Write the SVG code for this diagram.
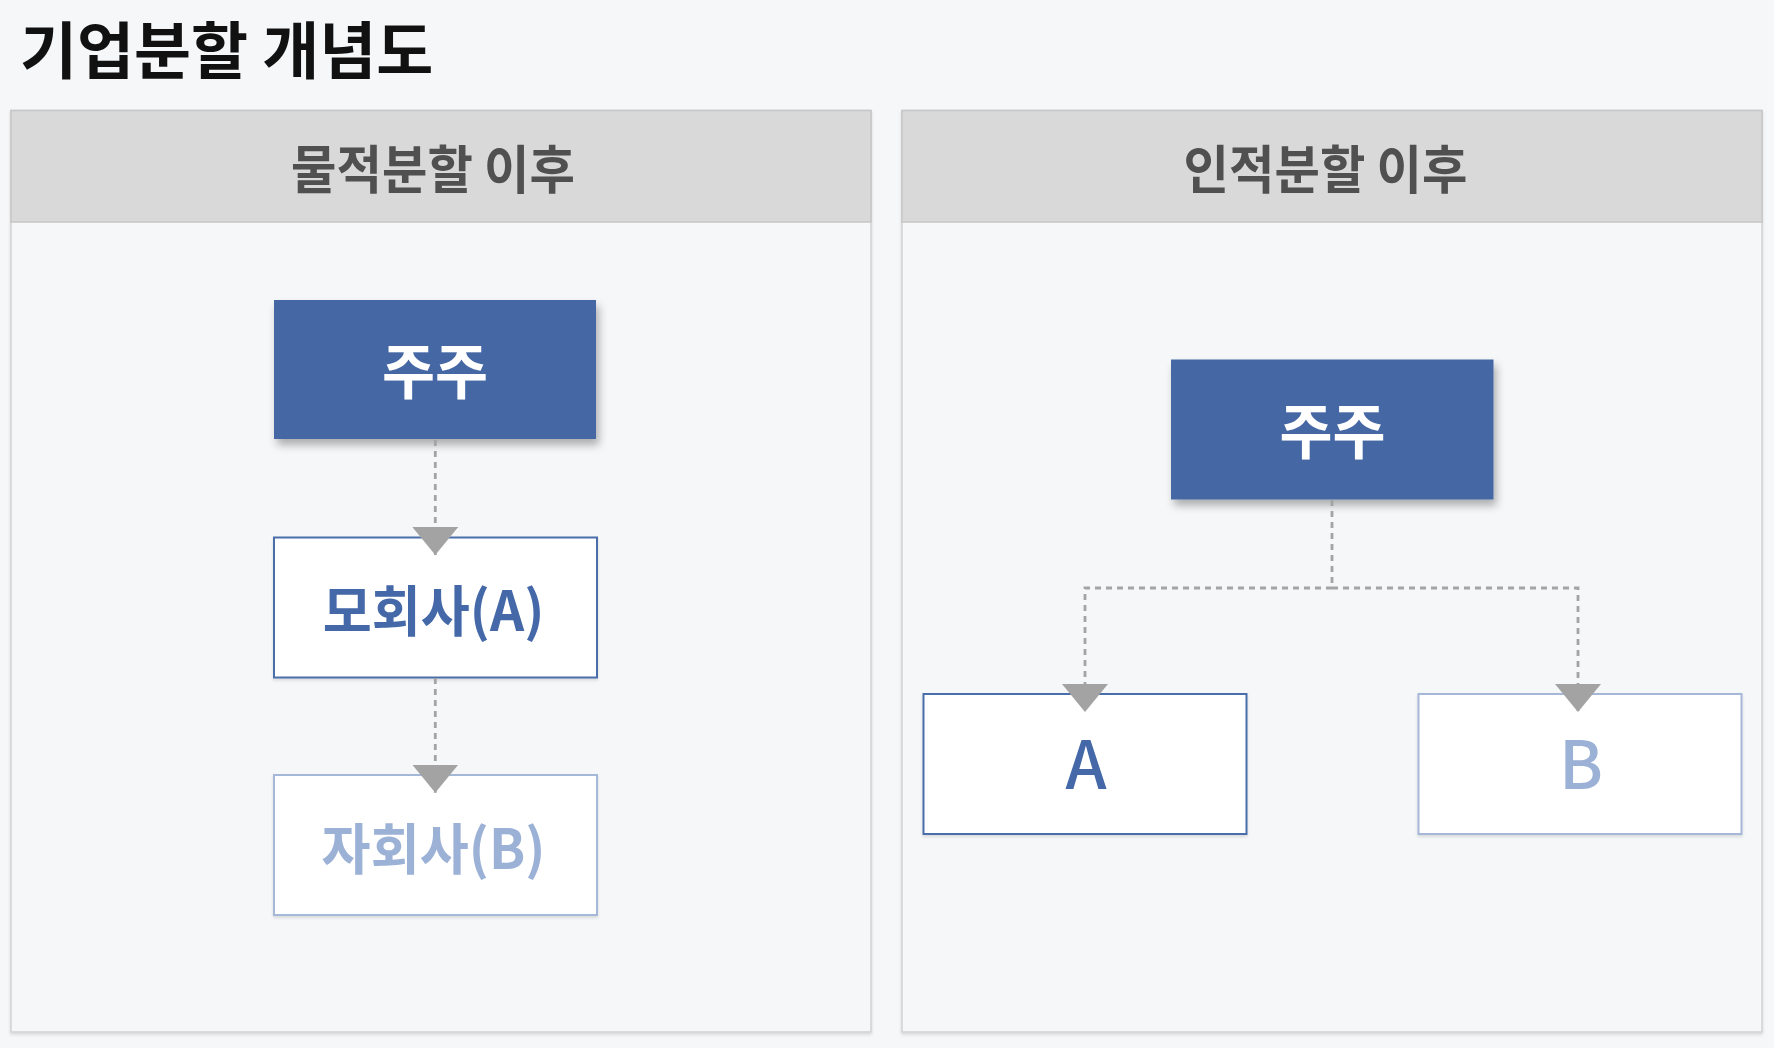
<svg xmlns="http://www.w3.org/2000/svg" width="1774" height="1048" viewBox="0 0 1774 1048">
<defs>
<style>
.kr{font-family:"Noto Sans CJK KR","Noto Sans CJK SC",sans-serif;}
.title{font-size:62px;font-weight:700;fill:#111111;}
.hdr{font-size:52px;font-weight:700;fill:#505050;}
.panel{fill:#f5f7f9;stroke:#d2d2d2;stroke-width:1.5;}
.hbar{fill:#d9d9d9;stroke:#c6c6c6;stroke-width:1.5;}
.blue{fill:#4468a5;}
.blueTxt{font-size:60px;font-weight:700;fill:#ffffff;}
.boxA{fill:#ffffff;stroke:#4a6ea9;stroke-width:2;}
.boxB{fill:#ffffff;stroke:#a5b8d8;stroke-width:2;}
.txtA{font-size:55px;font-weight:700;fill:#4468a8;}
.txtB{font-size:55px;font-weight:700;fill:#9cb1d6;}
.conn{fill:none;stroke:#a4a4a4;stroke-width:2.8;stroke-dasharray:6 5;}
</style>
<filter id="sh" x="-10%" y="-10%" width="130%" height="140%">
<feDropShadow dx="3" dy="6" stdDeviation="4" flood-color="#000" flood-opacity="0.3"/>
</filter>
<filter id="shs" x="-5%" y="-5%" width="110%" height="115%">
<feDropShadow dx="0" dy="2" stdDeviation="1.5" flood-color="#000" flood-opacity="0.12"/>
</filter>
<marker id="arr" markerUnits="userSpaceOnUse" viewBox="0 0 28 46" refX="28" refY="23" markerWidth="28" markerHeight="46" orient="auto">
<path d="M0,0 L28,23 L0,46 Z" fill="#a3a3a3"/>
</marker>
</defs>
<rect width="1774" height="1048" fill="#f5f7f9"/>
<text class="kr title" x="20" y="74">기업분할 개념도</text>

<g id="panel-left">
<rect class="panel" x="11" y="110.5" width="860" height="921.5" filter="url(#shs)"/>
<rect class="hbar" x="11" y="110.5" width="860" height="111.5"/>
<text class="kr hdr" text-anchor="middle" transform="translate(433,189) scale(0.95,1)">물적분할 이후</text>
</g>
<g id="panel-right">
<rect class="panel" x="902" y="110.5" width="860" height="921.5" filter="url(#shs)"/>
<rect class="hbar" x="902" y="110.5" width="860" height="111.5"/>
<text class="kr hdr" text-anchor="middle" transform="translate(1325.5,189) scale(0.95,1)">인적분할 이후</text>
</g>

<g id="node-shareholder-left">
<rect class="blue" x="274" y="300" width="322" height="139" filter="url(#sh)"/>
<text class="kr blueTxt" text-anchor="middle" transform="translate(435,394) scale(0.96,1)">주주</text>
</g>
<g id="node-parent-a">
<rect class="boxA" x="274" y="537.5" width="323" height="140" filter="url(#shs)"/>
<text class="kr txtA" text-anchor="middle" transform="translate(433.5,631) scale(0.97,1)">모회사(A)</text>
</g>
<g id="node-sub-b">
<rect class="boxB" x="274" y="775" width="323" height="140" filter="url(#shs)"/>
<text class="kr txtB" text-anchor="middle" transform="translate(433.5,869) scale(0.97,1)">자회사(B)</text>
</g>

<g id="node-shareholder-right">
<rect class="blue" x="1171" y="359.5" width="322.5" height="140" filter="url(#sh)"/>
<text class="kr blueTxt" text-anchor="middle" transform="translate(1332.5,454) scale(0.96,1)">주주</text>
</g>
<g id="node-a">
<rect class="boxA" x="923.5" y="694" width="323" height="140" filter="url(#shs)"/>
<text class="kr txtA" text-anchor="middle" x="1086" y="789" style="font-size:66px;font-weight:500">A</text>
</g>
<g id="node-b">
<rect class="boxB" x="1418.5" y="694" width="323" height="140" filter="url(#shs)"/>
<text class="kr txtB" text-anchor="middle" x="1581" y="789" style="font-size:66px;font-weight:500">B</text>
</g>

<g id="connectors">
<path class="conn" d="M435.3,440 V555" marker-end="url(#arr)"/>
<path class="conn" d="M435.3,678 V792.7" marker-end="url(#arr)"/>
<path class="conn" d="M1332,500 V588 H1085 V712" marker-end="url(#arr)"/>
<path class="conn" d="M1332,588 H1578 V712" marker-end="url(#arr)"/>
</g>
</svg>
